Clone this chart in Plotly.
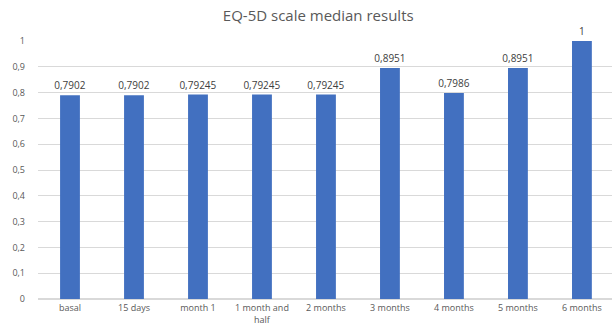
import plotly.graph_objects as go

categories = ["basal", "15 days", "month 1", "1 month and<br>half", "2 months",
              "3 months", "4 months", "5 months", "6 months"]
medians = [0.7902, 0.7902, 0.79245, 0.79245, 0.79245, 0.8951, 0.7986, 0.8951, 1]
labels = ["0,7902", "0,7902", "0,79245", "0,79245", "0,79245",
          "0,8951", "0,7986", "0,8951", "1"]

fig = go.Figure(go.Bar(
    x=categories,
    y=medians,
    text=labels,
    textposition="outside",
    cliponaxis=False,
    textfont=dict(size=10, color="#404040"),
    marker=dict(color="#4270C0", line=dict(width=0)),
    width=0.31,
))

fig.update_layout(
    width=612, height=331,
    margin=dict(l=38, r=0, t=41, b=32),
    paper_bgcolor="white", plot_bgcolor="white",
    separators=",.",
    font=dict(family="Open Sans, sans-serif", color="#595959", size=9),
    title=dict(text="EQ-5D scale median results", x=0.52, xanchor="center",
               y=0.952, yanchor="middle",
               font=dict(size=15, color="#595959")),
    showlegend=False,
    uniformtext=dict(minsize=8, mode="show"),
)
fig.update_yaxes(range=[0, 1], dtick=0.1, showgrid=True, gridcolor="#d9d9d9",
                 gridwidth=1, zeroline=True, zerolinecolor="#d9d9d9",
                 showline=False, ticks="", ticklabelstandoff=12,
                 tickfont=dict(size=9, color="#595959"))
fig.update_xaxes(range=[-0.5, 8.47], showgrid=False, showline=False, ticks="",
                 ticklabelstandoff=2,
                 tickfont=dict(size=9, color="#595959"))

fig.write_html("out.html")
